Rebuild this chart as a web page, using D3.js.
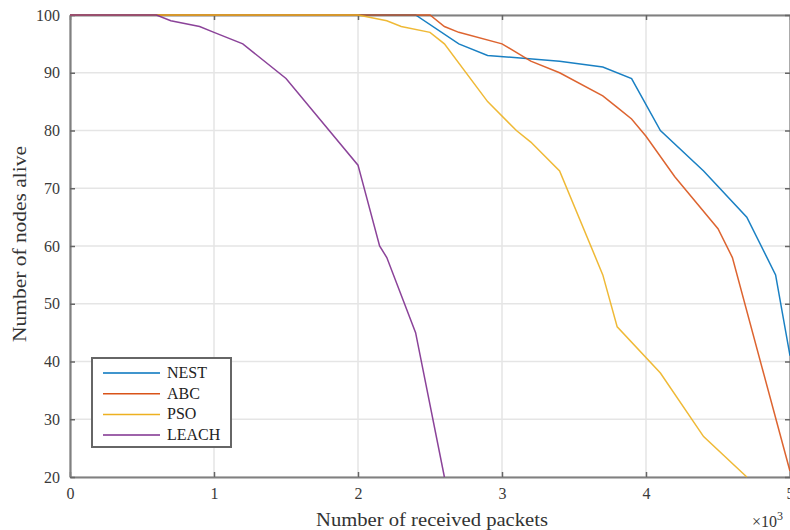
<!DOCTYPE html>
<html>
<head>
<meta charset="utf-8">
<style>
  body { margin: 0; background: #fff; }
  svg { display: block; font-family: "Liberation Serif", "DejaVu Serif", serif; }
</style>
</head>
<body>
<script src="https://d3js.org/d3.v7.min.js"></script>
<svg width="790" height="530"></svg>
<script>
// received packets vs nodes alive
var nestX  = [0, 2400, 2700, 2900, 3400, 3700, 3900, 4100, 4400, 4700, 4900, 5000];
var nestY  = [100, 100, 95, 93, 92, 91, 89, 80, 73, 65, 55, 41];
var abcX   = [0, 2500, 2600, 2700, 3000, 3200, 3400, 3700, 3800, 3900, 4000, 4200, 4500, 4600, 5000];
var abcY   = [100, 100, 98, 97, 95, 92, 90, 86, 84, 82, 79, 72, 63, 58, 21];
var psoX   = [0, 2000, 2200, 2300, 2500, 2600, 2900, 3100, 3200, 3400, 3700, 3800, 4100, 4400, 4700];
var psoY   = [100, 100, 99, 98, 97, 95, 85, 80, 78, 73, 55, 46, 38, 27, 20];
var leachX = [0, 600, 700, 900, 1000, 1200, 1500, 2000, 2150, 2200, 2400, 2600];
var leachY = [100, 100, 99, 98, 97, 95, 89, 74, 60, 58, 45, 20];

var seriesNames = ["NEST", "ABC", "PSO", "LEACH"];
var xTicks = [0, 1000, 2000, 3000, 4000, 5000];
var yTicks = [20, 30, 40, 50, 60, 70, 80, 90, 100];

var colors = ["#0072BD", "#D95319", "#EDB120", "#7E2F8E"];

var svg = d3.select("svg");
var pLeft = 70, pRight = 790, pTop = 15, pBottom = 477;

var x = d3.scaleLinear().domain([0, 5000]).range([pLeft, pRight]);
var y = d3.scaleLinear().domain([20, 100]).range([pBottom, pTop]);

// grid
svg.append("g").selectAll("line").data(xTicks).enter().append("line")
    .attr("x1", d => x(d)).attr("x2", d => x(d))
    .attr("y1", pTop).attr("y2", pBottom)
    .attr("stroke", "#e5e5e5").attr("stroke-width", 1.5);
svg.append("g").selectAll("line").data(yTicks).enter().append("line")
    .attr("x1", pLeft).attr("x2", pRight)
    .attr("y1", d => y(d)).attr("y2", d => y(d))
    .attr("stroke", "#e5e5e5").attr("stroke-width", 1.5);

// axes (matlab box, ticks inward)
var axColor = "#808080";
var xAxis = svg.append("g").attr("transform", "translate(0," + pBottom + ")")
    .call(d3.axisBottom(x).tickValues(xTicks).tickSizeInner(-5).tickSizeOuter(0)
        .tickPadding(11).tickFormat(d => d / 1000));
var xAxisTop = svg.append("g").attr("transform", "translate(0," + pTop + ")")
    .call(d3.axisTop(x).tickValues(xTicks).tickSizeInner(-5).tickSizeOuter(0).tickFormat(""));
var yAxis = svg.append("g").attr("transform", "translate(" + pLeft + ",0)")
    .call(d3.axisLeft(y).tickValues(yTicks).tickSizeInner(-5).tickSizeOuter(0).tickPadding(10));
var yAxisRight = svg.append("g").attr("transform", "translate(" + pRight + ",0)")
    .call(d3.axisRight(y).tickValues(yTicks).tickSizeInner(-5).tickSizeOuter(0).tickFormat(""));

[xAxis, xAxisTop, yAxis, yAxisRight].forEach(function(g) {
    g.select(".domain").attr("stroke", axColor).attr("stroke-width", 2.2);
    g.selectAll(".tick line").attr("stroke", "#666").attr("stroke-width", 1.5);
    g.selectAll("text").attr("fill", "#3a3a3a")
        .style("font-family", "Liberation Serif, serif").style("font-size", "16px");
});

// series
var line = d3.line().x(d => x(d[0])).y(d => y(d[1]));
var allX = [nestX, abcX, psoX, leachX];
var allY = [nestY, abcY, psoY, leachY];
allX.forEach(function(xs, i) {
    var pts = xs.map((v, j) => [v, allY[i][j]]);
    svg.append("path").datum(pts)
        .attr("d", line)
        .attr("fill", "none")
        .attr("stroke", colors[i])
        .attr("stroke-width", 1.5)
        .attr("stroke-opacity", 0.9);
});

// legend
var lg = svg.append("g");
lg.append("rect").attr("x", 92).attr("y", 358).attr("width", 139).attr("height", 89)
    .attr("fill", "#fff").attr("stroke", "#666").attr("stroke-width", 2);
seriesNames.forEach(function(name, i) {
    var yy = 373 + i * 20.7;
    lg.append("line").attr("x1", 103).attr("x2", 160).attr("y1", yy).attr("y2", yy)
        .attr("stroke", colors[i]).attr("stroke-width", 1.5);
    lg.append("text").attr("x", 167).attr("y", yy + 5).text(name)
        .attr("fill", "#222").style("font-size", "16px");
});

// labels
svg.append("text").attr("x", 432).attr("y", 526).attr("text-anchor", "middle")
    .attr("fill", "#333").style("font-size", "19px")
    .attr("textLength", 232).attr("lengthAdjust", "spacingAndGlyphs")
    .text("Number of received packets");
svg.append("text").attr("transform", "translate(26,244) rotate(-90)").attr("text-anchor", "middle")
    .attr("fill", "#333").style("font-size", "19px")
    .attr("textLength", 196).attr("lengthAdjust", "spacingAndGlyphs")
    .text("Number of nodes alive");
var ex = svg.append("text").attr("x", 752).attr("y", 527).attr("fill", "#333").style("font-size", "16px");
ex.append("tspan").text("×10");
ex.append("tspan").attr("dy", -7).style("font-size", "12px").text("3");
</script>
</body>
</html>
